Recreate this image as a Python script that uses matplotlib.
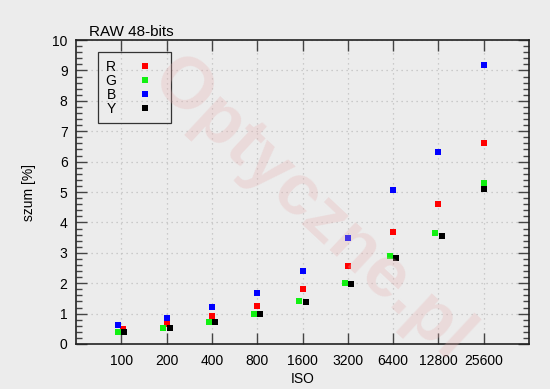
import numpy as np
import matplotlib
matplotlib.use("Agg")
import matplotlib.pyplot as plt
from matplotlib.ticker import MultipleLocator
from matplotlib.patches import Rectangle

plt.rcParams["font.family"] = ["Liberation Sans", "DejaVu Sans"]

ISO = ["100", "200", "400", "800", "1600", "3200", "6400", "12800", "25600"]
R = [0.48, 0.66, 0.92, 1.26, 1.80, 2.58, 3.69, 4.62, 6.60]
G = [0.38, 0.52, 0.72, 0.99, 1.43, 2.02, 2.88, 3.66, 5.29]
B = [0.61, 0.84, 1.21, 1.67, 2.41, 3.50, 5.07, 6.32, 9.19]
Y = [0.38, 0.52, 0.72, 0.99, 1.38, 1.97, 2.84, 3.56, 5.11]

# small horizontal shifts seen in the picture (in category units)
R_DX = [0.05, 0, 0, 0, 0, 0, 0, 0, 0]
G_DX = [-0.07, -0.07, -0.07, -0.07, -0.07, -0.07, -0.07, -0.07, 0]
B_DX = [-0.07, 0, 0, 0, 0, 0, 0, 0, 0]
Y_DX = [0.07, 0.07, 0.07, 0.07, 0.07, 0.07, 0.07, 0.07, 0]

BG = "#ececec"
fig = plt.figure(figsize=(5.5, 3.89), dpi=100, facecolor=BG)
ax = fig.add_axes([0.138, 0.1157, 0.824, 0.7813], facecolor=BG)

# watermark
fig.text(0.565, 0.46, "Optyczne.pl", rotation=-43, ha="center", va="center",
         fontsize=52, fontweight="bold", color="#e6b0b0", alpha=0.3,
         zorder=0)

pos = np.arange(1, len(ISO) + 1)
ms = 4.4
for vals, dx, col, lab in ((R, R_DX, "#ff0000", "R"), (G, G_DX, "#11f011", "G"),
                           (B, B_DX, "#0000ff", "B"), (Y, Y_DX, "#000000", "Y")):
    ax.plot(pos + np.array(dx), vals, "s", color=col, ms=ms, mew=0, label=lab,
            linestyle="none", zorder=3)

ax.set_xlim(0, 10)
ax.set_ylim(0, 10)
ax.set_xticks(pos)
ax.set_xticklabels(ISO)
ax.yaxis.set_major_locator(MultipleLocator(1))
ax.yaxis.set_minor_locator(MultipleLocator(0.2))
ax.tick_params(axis="both", which="major", direction="in", length=8, width=1,
               color="#444444", labelsize=10, top=True, right=True)
ax.tick_params(axis="y", which="minor", direction="in", length=4, width=1,
               color="#444444", right=True)
ax.tick_params(axis="y", pad=6)
ax.tick_params(axis="x", pad=7)
ax.grid(True, which="major", linestyle=(0, (1, 3)), color="#c0c0c0", lw=0.9)
for s in ax.spines.values():
    s.set_color("#222222")
    s.set_linewidth(1.2)

ax.set_xlabel("ISO", fontsize=10, labelpad=3)
ax.set_ylabel("szum [%]", fontsize=10, labelpad=12)
ax.set_title("RAW 48-bits", fontsize=11, loc="left", x=0.03, pad=3)

leg = ax.legend(loc="upper left", bbox_to_anchor=(0.064, 0.934), markerfirst=False,
                frameon=False, fontsize=10, handletextpad=1.6, labelspacing=0.0,
                borderpad=0, borderaxespad=0, handlelength=1.0)
for t in leg.get_texts():
    t.set_ha("left")
ax.add_patch(Rectangle((0.0486, 0.727), 0.161, 0.2336, transform=ax.transAxes,
                       fill=False, edgecolor="#333333", lw=0.9, zorder=4))

fig.savefig("out.png", dpi=100, facecolor=BG)
